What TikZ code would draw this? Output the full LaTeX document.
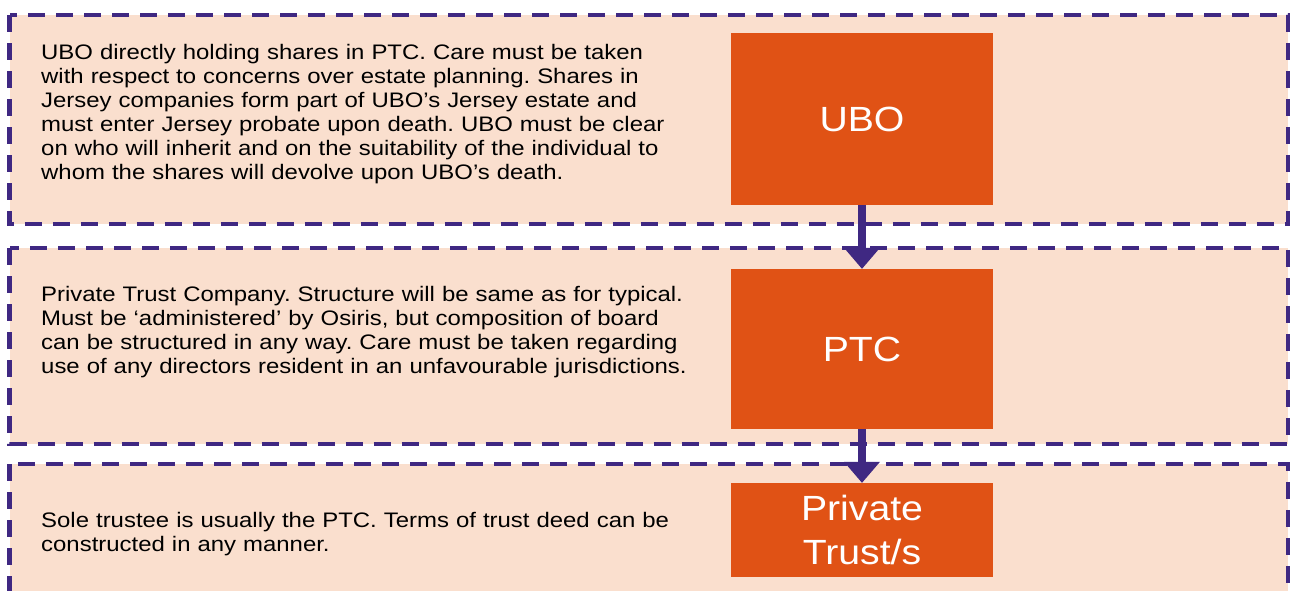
\documentclass[tikz,border=0pt]{standalone}
\usepackage{fontspec}
\setmainfont{Liberation Sans}
\newfontfamily\bodyfont[FakeStretch=1.14]{Liberation Sans}
\newfontfamily\labelfont[FakeStretch=1.12]{Liberation Sans}
\usetikzlibrary{arrows.meta}
\definecolor{peach}{HTML}{FADFCE}
\definecolor{borderpurple}{HTML}{3F2882}
\definecolor{boxorange}{HTML}{E05215}
\tikzset{
  panel/.style={fill=peach, draw=borderpurple, line width=4.5pt, dash pattern=on 17pt off 11pt},
  orangebox/.style={fill=boxorange, inner sep=0pt, text=white, align=center,
    font=\labelfont\fontsize{35}{44}\selectfont, minimum width=262pt},
  desc/.style={anchor=base west, inner sep=0pt, text width=690pt, align=left,
    font=\bodyfont\fontsize{21}{24}\selectfont},
  flow/.style={draw=borderpurple, line width=8pt,
    -{Triangle[width=36pt,length=21pt,line width=0pt]}}
}
\begin{document}
\frenchspacing
\begin{tikzpicture}[x=1pt,y=-1pt]
\useasboundingbox (0,0) rectangle (1290,590);
\clip (0,0) rectangle (1290,590);
\fill[white] (0,0) rectangle (1290,590);
% panels
\draw[panel] (9.5,15) rectangle (1288,224);
\draw[panel] (9.5,248) rectangle (1288,444);
\draw[panel] (9.5,464) rectangle (1288,640);
% descriptions
\node[desc] (t1) at (41,59) {UBO directly holding shares in PTC. Care must be taken\\
with respect to concerns over estate planning. Shares in\\
Jersey companies form part of UBO’s Jersey estate and\\
must enter Jersey probate upon death. UBO must be clear\\
on who will inherit and on the suitability of the individual to\\
whom the shares will devolve upon UBO’s death.};
\node[desc] (t2) at (41,301) {Private Trust Company. Structure will be same as for typical.\\
Must be ‘administered’ by Osiris, but composition of board\\
can be structured in any way. Care must be taken regarding\\
use of any directors resident in an unfavourable jurisdictions.};
\node[desc] (t3) at (41,527) {Sole trustee is usually the PTC. Terms of trust deed can be\\
constructed in any manner.};
% orange boxes
\node[orangebox, minimum height=172pt] (ubo) at (862,119) {UBO};
\node[orangebox, minimum height=160pt] (ptc) at (862,349) {PTC};
\node[orangebox, minimum height=94pt] (pt) at (862,530) {Private\\Trust/s};
% arrows
\draw[flow] (ubo.south) -- (ptc.north);
\draw[flow] (ptc.south) -- (pt.north);
\end{tikzpicture}
\end{document}
